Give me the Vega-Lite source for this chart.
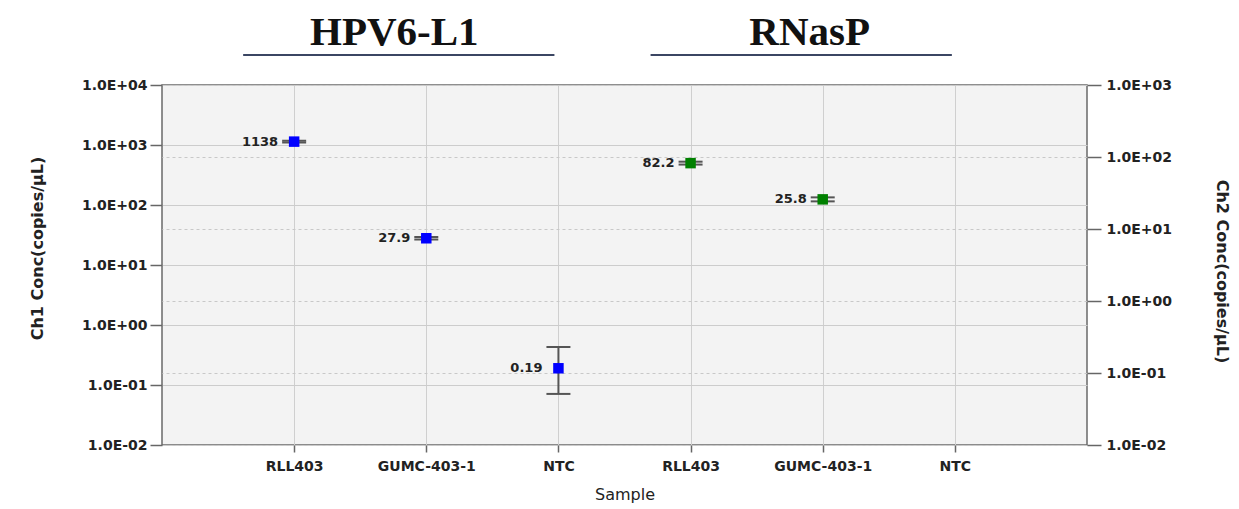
{
  "$schema": "https://vega.github.io/schema/vega-lite/v6.json",
  "width": 925,
  "height": 360,
  "autosize": {"type": "none"},
  "padding": {"left": 162, "top": 85, "right": 152, "bottom": 64},
  "background": "white",
  "config": {
    "view": {"fill": "#f3f3f3", "stroke": "#6a6a6a", "strokeWidth": 1.5},
    "font": "DejaVu Sans"
  },
  "datasets": {
    "samples": [
      {"key": "RLL403|1", "channel": "Ch1", "conc": 1138, "lo": 1100, "hi": 1178, "label": "1138"},
      {"key": "GUMC-403-1|1", "channel": "Ch1", "conc": 27.9, "lo": 26.6, "hi": 29.3, "label": "27.9"},
      {"key": "NTC|1", "channel": "Ch1", "conc": 0.19, "lo": 0.071, "hi": 0.43, "label": "0.19"},
      {"key": "RLL403|2", "channel": "Ch2", "conc": 82.2, "lo": 78.5, "hi": 86.1, "label": "82.2"},
      {"key": "GUMC-403-1|2", "channel": "Ch2", "conc": 25.8, "lo": 24.2, "hi": 27.5, "label": "25.8"}
    ],
    "groups": [
      {"group": "HPV6-L1", "mid": "GUMC-403-1|1", "from": "RLL403|1", "to": "NTC|1"},
      {"group": "RNasP", "mid": "GUMC-403-1|2", "from": "RLL403|2", "to": "NTC|2"}
    ]
  },
  "layer": [
    {
      "layer": [
        {
          "data": {"name": "samples"},
          "transform": [{"filter": "datum.channel === 'Ch1'"}],
          "mark": {"type": "rule", "color": "#555555", "strokeWidth": 2},
          "encoding": {
            "x": {"field": "key", "type": "nominal"},
            "y": {"field": "lo", "type": "quantitative", "scale": {"type": "log", "domain": [0.01, 10000]}},
            "y2": {"field": "hi"}
          }
        },
        {
          "data": {"name": "samples"},
          "transform": [{"filter": "datum.channel === 'Ch1'"}],
          "mark": {"type": "tick", "orient": "horizontal", "size": 24, "thickness": 2, "color": "#555555", "opacity": 1},
          "encoding": {
            "x": {"field": "key", "type": "nominal"},
            "y": {"field": "lo", "type": "quantitative", "scale": {"type": "log", "domain": [0.01, 10000]}}
          }
        },
        {
          "data": {"name": "samples"},
          "transform": [{"filter": "datum.channel === 'Ch1'"}],
          "mark": {"type": "tick", "orient": "horizontal", "size": 24, "thickness": 2, "color": "#555555", "opacity": 1},
          "encoding": {
            "x": {"field": "key", "type": "nominal"},
            "y": {"field": "hi", "type": "quantitative", "scale": {"type": "log", "domain": [0.01, 10000]}}
          }
        },
        {
          "data": {"name": "samples"},
          "transform": [{"filter": "datum.channel === 'Ch1'"}],
          "mark": {"type": "point", "shape": "square", "filled": true, "size": 110, "color": "#0000ff", "opacity": 1},
          "encoding": {
            "x": {
              "field": "key", "type": "nominal",
              "scale": {"type": "point", "domain": ["RLL403|1", "GUMC-403-1|1", "NTC|1", "RLL403|2", "GUMC-403-1|2", "NTC|2"], "padding": 1},
              "axis": {
                "title": "Sample",
                "labelExpr": "split(datum.label, '|')[0]",
                "labelFont": "DejaVu Sans", "labelFontWeight": "bold", "labelFontSize": 14, "labelColor": "#222222",
                "labelPadding": 7, "labelAngle": 0, "labelAlign": "center", "labelBaseline": "top",
                "tickSize": 7, "tickColor": "#666666", "tickWidth": 1.5,
                "domain": false,
                "grid": true, "gridColor": "#cfcfcf", "gridWidth": 1,
                "titleFont": "DejaVu Sans", "titleFontSize": 16, "titleFontWeight": "normal", "titleColor": "#222222", "titlePadding": 13
              }
            },
            "y": {
              "field": "conc", "type": "quantitative",
              "scale": {"type": "log", "domain": [0.01, 10000]},
              "axis": {
                "title": "Ch1 Conc(copies/µL)",
                "values": [0.01, 0.1, 1, 10, 100, 1000, 10000],
                "labelExpr": "'1.0E' + (datum.value >= 1 ? '+' : '-') + '0' + abs(round(log(datum.value) / LN10))",
                "labelFont": "DejaVu Sans", "labelFontWeight": "bold", "labelFontSize": 14, "labelColor": "#222222",
                "labelPadding": 3,
                "tickSize": 12, "tickColor": "#666666", "tickWidth": 1.5,
                "domain": false,
                "grid": true, "gridColor": "#cccccc", "gridWidth": 1,
                "titleFont": "DejaVu Sans", "titleFontSize": 16, "titleFontWeight": "bold", "titleColor": "#222222", "titlePadding": 36,
                "titleY": 163
              }
            }
          }
        },
        {
          "data": {"name": "samples"},
          "transform": [{"filter": "datum.channel === 'Ch1'"}],
          "mark": {"type": "text", "align": "right", "baseline": "middle", "dx": -16, "font": "DejaVu Sans", "fontWeight": "bold", "fontSize": 13, "color": "#222222"},
          "encoding": {
            "x": {"field": "key", "type": "nominal"},
            "y": {"field": "conc", "type": "quantitative", "scale": {"type": "log", "domain": [0.01, 10000]}},
            "text": {"field": "label", "type": "nominal"}
          }
        },
        {
          "data": {"name": "groups"},
          "transform": [{"filter": "datum.group === 'HPV6-L1'"}],
          "mark": {"type": "text", "align": "center", "baseline": "alphabetic", "dx": -32, "font": "Liberation Serif", "fontWeight": "bold", "fontSize": 41, "color": "#111111"},
          "encoding": {
            "x": {"field": "mid", "type": "nominal"},
            "y": {"datum": 46400, "type": "quantitative", "scale": {"type": "log", "domain": [0.01, 10000]}},
            "text": {"field": "group", "type": "nominal"}
          }
        },
        {
          "data": {"name": "groups"},
          "transform": [{"filter": "datum.group === 'RNasP'"}],
          "mark": {"type": "text", "align": "center", "baseline": "alphabetic", "dx": -13, "font": "Liberation Serif", "fontWeight": "bold", "fontSize": 41, "color": "#111111"},
          "encoding": {
            "x": {"field": "mid", "type": "nominal"},
            "y": {"datum": 46400, "type": "quantitative", "scale": {"type": "log", "domain": [0.01, 10000]}},
            "text": {"field": "group", "type": "nominal"}
          }
        },
        {
          "data": {"name": "groups"},
          "transform": [{"filter": "datum.group === 'HPV6-L1'"}],
          "mark": {"type": "rule", "color": "#3b4663", "strokeWidth": 2, "xOffset": -51, "x2Offset": -4},
          "encoding": {
            "x": {"field": "from", "type": "nominal"},
            "x2": {"field": "to"},
            "y": {"datum": 31600, "type": "quantitative", "scale": {"type": "log", "domain": [0.01, 10000]}}
          }
        },
        {
          "data": {"name": "groups"},
          "transform": [{"filter": "datum.group === 'RNasP'"}],
          "mark": {"type": "rule", "color": "#3b4663", "strokeWidth": 2, "xOffset": -40, "x2Offset": -3},
          "encoding": {
            "x": {"field": "from", "type": "nominal"},
            "x2": {"field": "to"},
            "y": {"datum": 31600, "type": "quantitative", "scale": {"type": "log", "domain": [0.01, 10000]}}
          }
        }
      ]
    },
    {
      "data": {"name": "samples"},
      "transform": [{"filter": "datum.channel === 'Ch2'"}],
      "layer": [
        {
          "mark": {"type": "rule", "color": "#555555", "strokeWidth": 2},
          "encoding": {
            "x": {"field": "key", "type": "nominal"},
            "y": {"field": "lo", "type": "quantitative", "scale": {"type": "log", "domain": [0.01, 1000]}},
            "y2": {"field": "hi"}
          }
        },
        {
          "mark": {"type": "tick", "orient": "horizontal", "size": 24, "thickness": 2, "color": "#555555", "opacity": 1},
          "encoding": {
            "x": {"field": "key", "type": "nominal"},
            "y": {"field": "lo", "type": "quantitative", "scale": {"type": "log", "domain": [0.01, 1000]}}
          }
        },
        {
          "mark": {"type": "tick", "orient": "horizontal", "size": 24, "thickness": 2, "color": "#555555", "opacity": 1},
          "encoding": {
            "x": {"field": "key", "type": "nominal"},
            "y": {"field": "hi", "type": "quantitative", "scale": {"type": "log", "domain": [0.01, 1000]}}
          }
        },
        {
          "mark": {"type": "point", "shape": "square", "filled": true, "size": 110, "color": "#008000", "opacity": 1},
          "encoding": {
            "x": {"field": "key", "type": "nominal"},
            "y": {
              "field": "conc", "type": "quantitative",
              "scale": {"type": "log", "domain": [0.01, 1000]},
              "axis": {
                "orient": "right",
                "title": "Ch2 Conc(copies/µL)",
                "values": [0.01, 0.1, 1, 10, 100, 1000],
                "labelExpr": "'1.0E' + (datum.value >= 1 ? '+' : '-') + '0' + abs(round(log(datum.value) / LN10))",
                "labelFont": "DejaVu Sans", "labelFontWeight": "bold", "labelFontSize": 14, "labelColor": "#222222",
                "labelPadding": 5,
                "tickSize": 14, "tickColor": "#666666", "tickWidth": 1.5,
                "domain": false,
                "grid": true, "gridColor": "#c8c8c8", "gridWidth": 1, "gridDash": [3, 3],
                "titleFont": "DejaVu Sans", "titleFontSize": 16, "titleFontWeight": "bold", "titleColor": "#222222", "titlePadding": 42,
                "titleY": 186
              }
            }
          }
        },
        {
          "mark": {"type": "text", "align": "right", "baseline": "middle", "dx": -16, "font": "DejaVu Sans", "fontWeight": "bold", "fontSize": 13, "color": "#222222"},
          "encoding": {
            "x": {"field": "key", "type": "nominal"},
            "y": {"field": "conc", "type": "quantitative", "scale": {"type": "log", "domain": [0.01, 1000]}},
            "text": {"field": "label", "type": "nominal"}
          }
        }
      ]
    }
  ],
  "resolve": {"scale": {"y": "independent"}, "axis": {"y": "independent"}}
}
